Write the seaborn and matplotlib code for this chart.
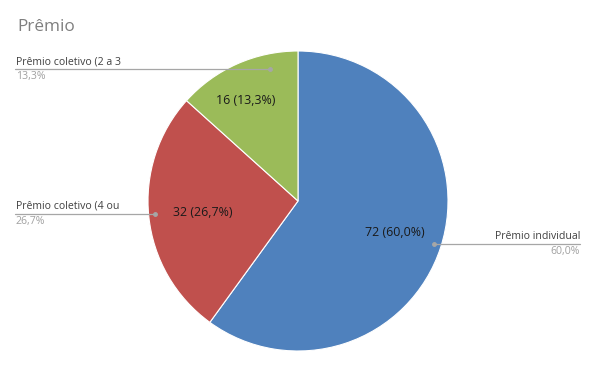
import matplotlib
matplotlib.use("Agg")
import matplotlib.pyplot as plt
import seaborn as sns

categories = ["Prêmio individual", "Prêmio coletivo (4 ou", "Prêmio coletivo (2 a 3"]
values = [72, 32, 16]
colors = ["#4F81BD", "#C0504D", "#9BBB59"]
title = "Prêmio"

sns.set_theme(style="white")
plt.rcParams['font.family'] = ['Open Sans', 'DejaVu Sans']

W, H = 595, 365
fig = plt.figure(figsize=(W / 100, H / 100), dpi=100)
ax = fig.add_axes([0, 0, 1, 1])

cx, cy, r = 298, H - 201, 150
total = sum(values)
wedges, _ = ax.pie(values, colors=colors, startangle=90, counterclock=False,
                   center=(cx, cy), radius=r, frame=True,
                   wedgeprops=dict(edgecolor='white', linewidth=0.8))
ax.set_xlim(0, W)
ax.set_ylim(0, H)
ax.set_aspect('equal')
ax.axis('off')

def pct(v):
    return f"{v / total * 100:.1f}%".replace('.', ',')

# inner value labels (pixel positions)
inner_pos = [(395, 232), (203, 213), (246, 101)]
for v, (px, py) in zip(values, inner_pos):
    ax.text(px, H - py, f"{v} ({pct(v)})", ha='center', va='center',
            fontsize=8.9, color='#1a1a1a')

# leader lines and outer labels: (dot x, y, line end x, side)
leaders = [(434, 244, 580, 'right'), (155, 214, 15, 'left'), (270, 69, 15, 'left')]
for cat, v, (dx, ly, ex, side) in zip(categories, values, leaders):
    ax.plot([dx, ex], [H - ly, H - ly], color='#a6a6a6', lw=0.9)
    ax.plot([dx], [H - ly], 'o', color='#a6a6a6', ms=2.5)
    ha = 'right' if side == 'right' else 'left'
    tx = ex + (1 if side == 'left' else 0)
    ax.text(tx, H - ly + 2, cat, ha=ha, va='bottom', fontsize=7.6, color='#404040')
    ax.text(tx, H - ly - 2, pct(v), ha=ha, va='top', fontsize=7.6, color='#a0a0a0')

ax.text(17, H - 27, title, ha='left', va='center', fontsize=12.3, color='#7f7f7f')

fig.savefig("out.png", dpi=100)
